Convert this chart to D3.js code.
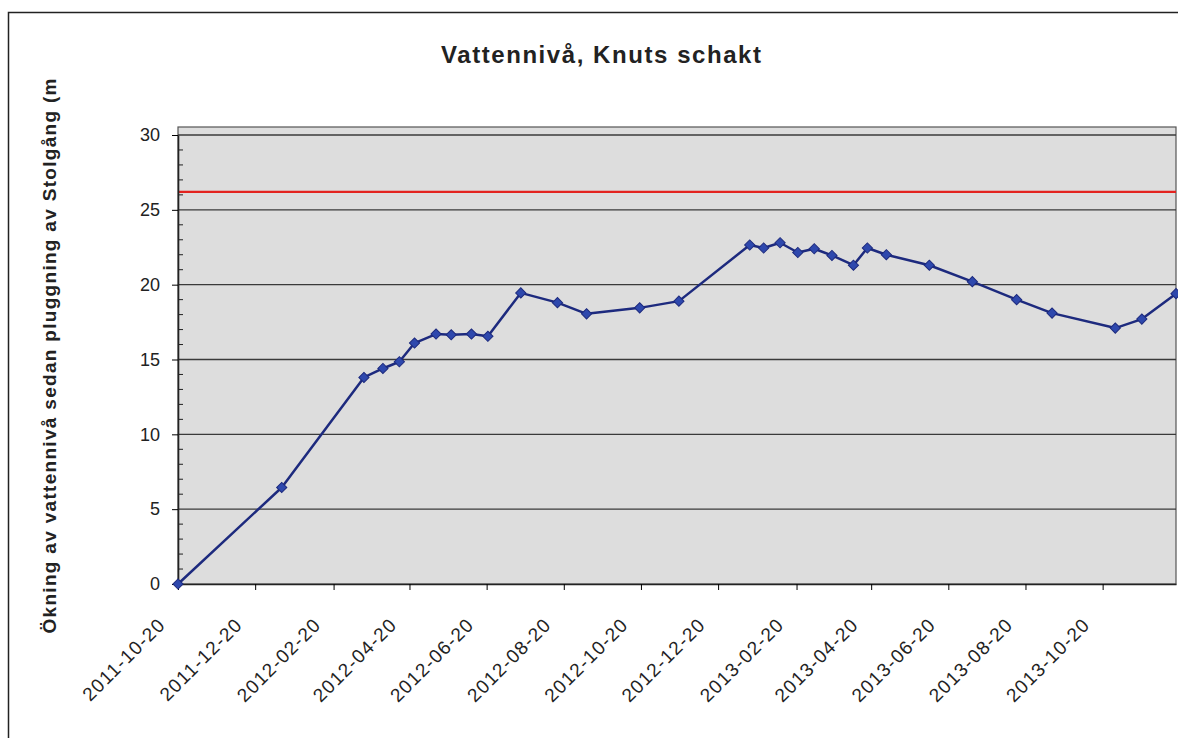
<!DOCTYPE html>
<html>
<head>
<meta charset="utf-8">
<script src="https://cdn.jsdelivr.net/npm/d3@7"></script>
<style>
  body { margin: 0; background: #fff; }
  text { font-family: "Liberation Sans", Arial, sans-serif; fill: #222; }
</style>
</head>
<body>
<svg id="chart" width="1178" height="738"></svg>
<script>
// Mätdatum och ökning av vattennivå (m)
var measureDates = [
    "2011-10-20", "2012-01-10", "2012-03-15", "2012-03-30", "2012-04-12",
    "2012-04-24", "2012-05-11", "2012-05-23", "2012-06-08", "2012-06-21",
    "2012-07-17", "2012-08-15", "2012-09-07", "2012-10-19", "2012-11-19",
    "2013-01-14", "2013-01-25", "2013-02-07", "2013-02-21", "2013-03-06",
    "2013-03-20", "2013-04-06", "2013-04-17", "2013-05-02", "2013-06-05",
    "2013-07-09", "2013-08-13", "2013-09-10", "2013-10-30", "2013-11-20",
    "2013-12-17"
];
var levelValues = [
    0, 6.45, 13.8, 14.4, 14.85,
    16.1, 16.7, 16.65, 16.7, 16.55,
    19.45, 18.8, 18.05, 18.45, 18.9,
    22.65, 22.45, 22.8, 22.15, 22.4,
    21.95, 21.3, 22.45, 22.0, 21.3,
    20.2, 19.0, 18.1, 17.1, 17.7,
    19.4
];

// Röd referenslinje
var referenceLevel = 26.2;

var yTickValues = [0, 5, 10, 15, 20, 25, 30];
var xTickLabels = [
    "2011-10-20", "2011-12-20", "2012-02-20", "2012-04-20", "2012-06-20",
    "2012-08-20", "2012-10-20", "2012-12-20", "2013-02-20", "2013-04-20",
    "2013-06-20", "2013-08-20", "2013-10-20"
];
var axisStart = "2011-10-20";
var axisEnd = "2013-12-17";

var chartTitle = "Vattennivå, Knuts schakt";
var yAxisTitle = "Ökning av vattennivå sedan pluggning av Stolgång (m";

var parseDate = d3.timeParse("%Y-%m-%d");
var formatDate = d3.timeFormat("%Y-%m-%d");

var points = measureDates.map(function(d, i) {
    return { date: parseDate(d), value: levelValues[i] };
});

var svg = d3.select("#chart");

// Plot area geometry
var plot = { left: 178, right: 1176, top: 135, bottom: 584 };

var x = d3.scaleTime()
    .domain([parseDate(axisStart), parseDate(axisEnd)])
    .range([plot.left, plot.right]);

var y = d3.scaleLinear()
    .domain([0, 30])
    .range([plot.bottom, plot.top]);

// Outer chart border (goes past the cropped right/bottom edge)
svg.append("rect")
    .attr("x", 8.5)
    .attr("y", 12.5)
    .attr("width", 1300)
    .attr("height", 900)
    .attr("fill", "none")
    .attr("stroke", "#222")
    .attr("stroke-width", 1.5);

// Title
svg.append("text")
    .attr("x", 601)
    .attr("y", 63)
    .attr("text-anchor", "middle")
    .attr("textLength", 320)
    .attr("lengthAdjust", "spacing")
    .style("font-size", "24px")
    .style("font-weight", "bold")
    .text(chartTitle);

// Y axis title, rotated
svg.append("text")
    .attr("transform", "translate(56, 356) rotate(-90)")
    .attr("text-anchor", "middle")
    .attr("textLength", 555)
    .attr("lengthAdjust", "spacing")
    .style("font-size", "19px")
    .style("font-weight", "bold")
    .text(yAxisTitle);

// Grey plot background
svg.append("rect")
    .attr("x", plot.left)
    .attr("y", plot.top - 8)
    .attr("width", plot.right - plot.left)
    .attr("height", plot.bottom - plot.top + 8)
    .attr("fill", "#dddddd")
    .attr("stroke", "#555")
    .attr("stroke-width", 1.2);

// Horizontal gridlines
svg.append("g")
    .attr("class", "grid")
    .selectAll("line")
    .data(yTickValues.filter(function(d) { return d > 0; }))
    .join("line")
    .attr("x1", plot.left)
    .attr("x2", plot.right)
    .attr("y1", function(d) { return y(d); })
    .attr("y2", function(d) { return y(d); })
    .attr("stroke", "#3a3a3a")
    .attr("stroke-width", 1.3);

// Minor ticks on y axis (inside)
svg.append("g")
    .selectAll("line")
    .data(d3.range(0, 31).filter(function(d) { return d % 5 != 0; }))
    .join("line")
    .attr("x1", plot.left)
    .attr("x2", plot.left + 5)
    .attr("y1", function(d) { return y(d); })
    .attr("y2", function(d) { return y(d); })
    .attr("stroke", "#222")
    .attr("stroke-width", 1);

// Reference level
svg.append("line")
    .attr("x1", plot.left)
    .attr("x2", plot.right)
    .attr("y1", y(referenceLevel))
    .attr("y2", y(referenceLevel))
    .attr("stroke", "#e3231f")
    .attr("stroke-width", 2.2);

// Y axis
var yAxis = svg.append("g")
    .attr("transform", `translate(${plot.left}, 0)`)
    .call(d3.axisLeft(y)
        .tickValues(yTickValues)
        .tickSize(6)
        .tickPadding(12)
        .tickSizeOuter(0));
yAxis.select(".domain")
    .attr("stroke", "#222")
    .attr("stroke-width", 1.6);
yAxis.selectAll("text")
    .style("font-size", "18px")
    .style("font-family", "'Liberation Sans', Arial, sans-serif")
    .attr("fill", "#222");

// X axis
var xAxis = svg.append("g")
    .attr("transform", `translate(0, ${plot.bottom})`)
    .call(d3.axisBottom(x)
        .tickValues(xTickLabels.map(parseDate))
        .tickFormat(formatDate)
        .tickSize(6)
        .tickSizeOuter(0));
xAxis.select(".domain")
    .attr("stroke", "#222")
    .attr("stroke-width", 1.6);
xAxis.selectAll("text")
    .attr("x", null)
    .attr("y", null)
    .attr("dy", null)
    .attr("transform", "translate(-12, 42) rotate(-45)")
    .attr("text-anchor", "end")
    .style("font-size", "19px")
    .style("letter-spacing", "1.2px")
    .style("font-family", "'Liberation Sans', Arial, sans-serif")
    .attr("fill", "#222");

// Data line
var line = d3.line()
    .x(function(d) { return x(d.date); })
    .y(function(d) { return y(d.value); });

svg.append("path")
    .datum(points)
    .attr("d", line)
    .attr("fill", "none")
    .attr("stroke", "#1d2a7e")
    .attr("stroke-width", 2.5)
    .attr("stroke-linejoin", "round");

// Diamond markers
svg.append("g")
    .selectAll("path")
    .data(points)
    .join("path")
    .attr("d", d3.symbol(d3.symbolSquare, 52))
    .attr("transform", function(d) {
        return `translate(${x(d.date)}, ${y(d.value)}) rotate(45)`;
    })
    .attr("fill", "#2e48ad")
    .attr("stroke", "#1d2a7e")
    .attr("stroke-width", 1);
</script>
</body>
</html>
